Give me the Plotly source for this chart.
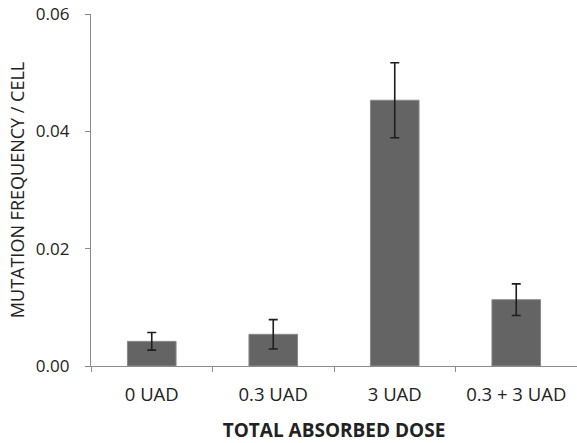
import plotly.graph_objects as go

categories = ["0 UAD", "0.3 UAD", "3 UAD", "0.3 + 3 UAD"]
values = [0.0042, 0.0054, 0.0453, 0.0113]
errors = [0.0015, 0.0025, 0.0064, 0.0027]
y_ticks = [0.00, 0.02, 0.04, 0.06]

fig = go.Figure(
    go.Bar(
        x=categories,
        y=values,
        width=0.4,
        marker=dict(color="#646464", line=dict(color="#8a8a8a", width=1)),
        error_y=dict(type="data", array=errors, visible=True,
                     color="#1e1e1e", thickness=1.6, width=4.5),
    )
)

fig.update_layout(
    width=577, height=443,
    margin=dict(l=91, r=0, t=14, b=77),
    paper_bgcolor="white", plot_bgcolor="white",
    font=dict(family="Open Sans", color="#222222"),
    showlegend=False,
    xaxis=dict(
        automargin=False,
        showline=True, linecolor="#8c8c8c", linewidth=1.2,
        ticks="outside", ticklen=5, tickcolor="#8c8c8c", tickson="boundaries",
        tickfont=dict(size=18.5, color="#222222"),
        ticklabelstandoff=12,
        title=dict(text="<b>TOTAL ABSORBED DOSE</b>", font=dict(size=19, color="#222222"), standoff=22),
        showgrid=False,
    ),
    yaxis=dict(
        automargin=False,
        range=[0, 0.06],
        tickvals=y_ticks, tickformat=".2f",
        showline=True, linecolor="#8c8c8c", linewidth=1.2,
        ticks="outside", ticklen=5, tickcolor="#8c8c8c",
        tickfont=dict(size=17, color="#222222"),
        ticklabelstandoff=12,
        ticklabeloverflow="allow",
        title=dict(text="MUTATION FREQUENCY / CELL", font=dict(size=18, color="#222222"), standoff=6),
        showgrid=False, zeroline=False,
    ),
)

# remove the browser's default body margin so the figure fills the window exactly
fig.write_html("out.html", config={"displayModeBar": False},
               post_script="document.body.style.margin='0';")
